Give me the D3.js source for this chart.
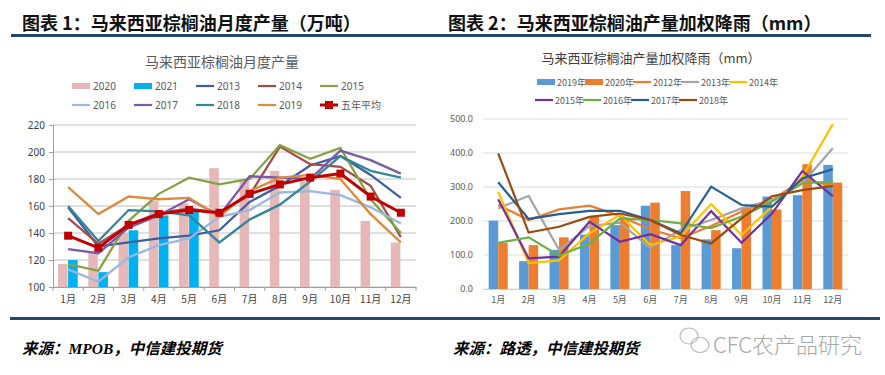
<!DOCTYPE html>
<html>
<head>
<meta charset="utf-8">
<script src="https://cdn.jsdelivr.net/npm/d3@7"></script>
<style>
  body { margin: 0; background: #fff; }
  text { font-family: "Noto Sans", "Noto Sans CJK SC", sans-serif; }
</style>
</head>
<body>
<svg id="mainFrame"></svg>
<script>
const months = ['1月','2月','3月','4月','5月','6月','7月','8月','9月','10月','11月','12月']

// chart 1: monthly output (10k t)
const prod2020 = [117,126,140,164,162,188,180,186,178,172,149,133]
const prod2021 = [120,111,142,153,156]
const p2013 = [159,130,133,136,138,142,163,175,190,197,183,166]
const p2014 = [151,132,146,155,158,155,168,204,191,189,175,137]
const p2015 = [117,112,149,169,181,176,180,205,195,203,165,140]
const p2016 = [113,104,122,131,136,152,157,170,171,168,159,147]
const p2017 = [128,125,144,153,165,153,182,181,180,201,194,184]
const p2018 = [160,134,157,156,153,133,150,161,178,197,186,181]
const p2019 = [174,154,167,165,166,152,171,181,183,180,154,133]
const avg5 = [138,129,146,154,157,155,169,176,181,184,167,155]
const prodTicks = [100,120,140,160,180,200,220]

// chart 2: weighted rainfall (mm)
const rain2019 = [201,82,115,160,188,245,129,146,120,272,276,365]
const rain2020 = [136,129,152,213,210,254,288,173,238,234,367,313]
const r2012 = [247,203,234,245,215,175,150,185,228,262,320,305]
const r2013 = [237,274,115,185,195,120,174,203,237,262,311,414]
const r2014 = [286,76,84,164,218,129,154,250,159,242,330,485]
const r2015 = [264,90,95,198,139,161,129,229,136,222,347,273]
const r2016 = [136,152,98,134,208,203,193,179,213,257,311,316]
const r2017 = [314,206,220,230,230,203,164,301,247,242,325,352]
const r2018 = [399,166,183,212,222,203,159,134,208,273,291,303]
const rainTicks = [0,100,200,300,400,500]

const svg = d3.select('#mainFrame')
    .attr('width', 885)
    .attr('height', 375)

// frame: headings and rules
const titleFont = '"Noto Sans CJK SC", sans-serif'
svg.append('text').text('图表 1：马来西亚棕榈油月度产量（万吨）')
    .attr('x', 22).attr('y', 30)
    .style('font-family', titleFont).style('font-weight', 'bold').style('font-size', '18px').attr('fill', '#111')
svg.append('text').text('图表 2：马来西亚棕榈油产量加权降雨（mm）')
    .attr('x', 448).attr('y', 30)
    .style('font-family', titleFont).style('font-weight', 'bold').style('font-size', '18px').attr('fill', '#111')
svg.append('rect').attr('x', 11).attr('y', 34).attr('width', 429).attr('height', 3).attr('fill', '#24476b')
svg.append('rect').attr('x', 440).attr('y', 34).attr('width', 431).attr('height', 3).attr('fill', '#24476b')
svg.append('rect').attr('x', 10).attr('y', 317).attr('width', 870).attr('height', 3).attr('fill', '#24476b')

const srcFont = '"Liberation Serif", "Noto Sans CJK SC", serif'
svg.append('text').text('来源：MPOB，中信建投期货')
    .attr('x', 22).attr('y', 354)
    .style('font-family', srcFont).style('font-weight', 'bold').style('font-style', 'italic').style('font-size', '15.5px')
svg.append('text').text('来源：路透，中信建投期货')
    .attr('x', 453).attr('y', 354)
    .style('font-family', srcFont).style('font-weight', 'bold').style('font-style', 'italic').style('font-size', '15.5px')

// watermark
const wm = svg.append('g').attr('fill', 'none').attr('stroke', '#b8b8b8').attr('stroke-width', 1.2)
wm.append('ellipse').attr('cx', 689).attr('cy', 336).attr('rx', 9).attr('ry', 8)
wm.append('ellipse').attr('cx', 700).attr('cy', 345).attr('rx', 9).attr('ry', 7.5)
svg.append('text').text('CFC农产品研究')
    .attr('x', 713).attr('y', 353)
    .style('font-size', '22px').attr('fill', '#a8a8a8')
    .style('font-family', '"Noto Sans CJK SC", sans-serif').style('font-weight', 300)

// ---------- chart 1 ----------
const c1 = svg.append('g')
const x1 = d3.scaleBand().domain(months).range([53, 416])
const x1in = d3.scaleBand().domain(['2020', '2021']).range([0, x1.bandwidth()]).paddingOuter(0.5).paddingInner(0)
const y1 = d3.scaleLinear().domain([100, 220]).range([287, 125])

c1.append('text').text('马来西亚棕榈油月度产量')
    .attr('x', 222).attr('y', 67).attr('text-anchor', 'middle')
    .style('font-family', '"Noto Sans CJK SC", serif').style('font-size', '14px').attr('fill', '#595959')

c1.append('g').selectAll('line').data(prodTicks).join('line')
    .attr('x1', 53).attr('x2', 416)
    .attr('y1', d => y1(d)).attr('y2', d => y1(d))
    .attr('stroke', '#c0c0c0').attr('stroke-width', 1)

c1.append('g').attr('transform', 'translate(53,0)')
    .call(d3.axisLeft(y1).tickValues(prodTicks).tickSize(4).tickPadding(4))
    .call(g => g.select('.domain').attr('stroke', '#a0a0a0'))
    .call(g => g.selectAll('.tick line').attr('stroke', '#a0a0a0'))
    .call(g => g.selectAll('text').attr('fill', '#404040').style('font-size', '10px'))

const x1axis = c1.append('g').attr('transform', 'translate(0,287)')
    .call(d3.axisBottom(x1).tickSize(0).tickPadding(9))
x1axis.select('.domain').attr('stroke', '#a0a0a0')
x1axis.selectAll('text').attr('fill', '#404040').style('font-size', '10px')
    .style('font-family', '"Noto Sans CJK SC", sans-serif')
x1axis.selectAll('.sep').data(d3.range(13)).join('line')
    .attr('x1', i => 53 + i * x1.bandwidth()).attr('x2', i => 53 + i * x1.bandwidth())
    .attr('y1', 0).attr('y2', 4).attr('stroke', '#a0a0a0')

c1.append('g').selectAll('rect').data(prod2020).join('rect')
    .attr('x', (d, i) => x1(months[i]) + x1in('2020'))
    .attr('width', x1in.bandwidth() - 0.5)
    .attr('y', d => y1(d)).attr('height', d => 287 - y1(d))
    .attr('fill', '#e6b8b7')
c1.append('g').selectAll('rect').data(prod2021).join('rect')
    .attr('x', (d, i) => x1(months[i]) + x1in('2021'))
    .attr('width', x1in.bandwidth() - 0.5)
    .attr('y', d => y1(d)).attr('height', d => 287 - y1(d))
    .attr('fill', '#00b0f0')

const prodLines = [
    {name: '2013', values: p2013, color: '#3d5f9e'},
    {name: '2014', values: p2014, color: '#a94a47'},
    {name: '2015', values: p2015, color: '#85a244'},
    {name: '2016', values: p2016, color: '#9bb8dc'},
    {name: '2017', values: p2017, color: '#7b5ba6'},
    {name: '2018', values: p2018, color: '#33879b'},
    {name: '2019', values: p2019, color: '#dd8a3e'},
]
const line1 = d3.line()
    .x((d, i) => x1(months[i]) + x1.bandwidth() / 2)
    .y(d => y1(d))
c1.append('g').selectAll('path').data(prodLines).join('path')
    .attr('d', d => line1(d.values))
    .attr('fill', 'none').attr('stroke', d => d.color).attr('stroke-width', 2.3)
c1.append('path').attr('d', line1(avg5))
    .attr('fill', 'none').attr('stroke', '#c00000').attr('stroke-width', 3)
c1.append('g').selectAll('rect').data(avg5).join('rect')
    .attr('x', (d, i) => x1(months[i]) + x1.bandwidth() / 2 - 4)
    .attr('y', d => y1(d) - 4)
    .attr('width', 8).attr('height', 8).attr('fill', '#c00000')

// legend 1
const leg1 = [
    {name: '2020', type: 'bar', color: '#e6b8b7'},
    {name: '2021', type: 'bar', color: '#00b0f0'},
    ...prodLines.map(d => ({name: d.name, type: 'line', color: d.color})),
    {name: '五年平均', type: 'mark', color: '#c00000'},
]
const leg1Items = c1.append('g').selectAll('g').data(leg1).join('g')
    .attr('transform', (d, i) => `translate(${72 + (i % 5) * 62},${i < 5 ? 86 : 105})`)
leg1Items.filter(d => d.type === 'bar').append('rect')
    .attr('x', 0).attr('y', -3).attr('width', 18).attr('height', 6).attr('fill', d => d.color)
leg1Items.filter(d => d.type !== 'bar').append('line')
    .attr('x1', 0).attr('x2', 18).attr('stroke', d => d.color).attr('stroke-width', d => d.type === 'mark' ? 3 : 2.2)
leg1Items.filter(d => d.type === 'mark').append('rect')
    .attr('x', 5).attr('y', -4).attr('width', 8).attr('height', 8).attr('fill', d => d.color)
leg1Items.append('text').text(d => d.name)
    .attr('x', 21).attr('y', 4)
    .style('font-size', '10px').attr('fill', '#595959')

// ---------- chart 2 ----------
const c2 = svg.append('g')
const x2 = d3.scaleBand().domain(months).range([483, 848])
const x2in = d3.scaleBand().domain(['2019', '2020']).range([0, x2.bandwidth()]).paddingOuter(0.6).paddingInner(0)
const y2 = d3.scaleLinear().domain([0, 500]).range([289, 119])

c2.append('text').text('马来西亚棕榈油产量加权降雨（mm）')
    .attr('x', 651).attr('y', 63).attr('text-anchor', 'middle')
    .style('font-family', '"Noto Sans CJK SC", sans-serif').style('font-size', '13px').attr('fill', '#404040')

c2.append('g').selectAll('line').data(rainTicks).join('line')
    .attr('x1', 483).attr('x2', 848)
    .attr('y1', d => y2(d)).attr('y2', d => y2(d))
    .attr('stroke', '#dcdcdc').attr('stroke-width', 1)

c2.append('g').attr('transform', 'translate(483,0)')
    .call(d3.axisLeft(y2).tickValues(rainTicks).tickFormat(d3.format('.1f')).tickSize(0).tickPadding(10))
    .call(g => g.select('.domain').remove())
    .call(g => g.selectAll('text').attr('fill', '#595959').style('font-size', '9px'))

const x2axis = c2.append('g').attr('transform', 'translate(0,289)')
    .call(d3.axisBottom(x2).tickSize(0).tickPadding(8))
x2axis.select('.domain').attr('stroke', '#d0d0d0')
x2axis.selectAll('text').attr('fill', '#595959').style('font-size', '9px')
    .style('font-family', '"Noto Sans CJK SC", sans-serif')

c2.append('g').selectAll('rect').data(rain2019).join('rect')
    .attr('x', (d, i) => x2(months[i]) + x2in('2019'))
    .attr('width', x2in.bandwidth())
    .attr('y', d => y2(d)).attr('height', d => 289 - y2(d))
    .attr('fill', '#5b9bd5')
c2.append('g').selectAll('rect').data(rain2020).join('rect')
    .attr('x', (d, i) => x2(months[i]) + x2in('2020'))
    .attr('width', x2in.bandwidth())
    .attr('y', d => y2(d)).attr('height', d => 289 - y2(d))
    .attr('fill', '#ed7d31')

const rainLines = [
    {name: '2012年', values: r2012, color: '#ed7d31'},
    {name: '2013年', values: r2013, color: '#a5a5a5'},
    {name: '2014年', values: r2014, color: '#ffc000'},
    {name: '2015年', values: r2015, color: '#7030a0'},
    {name: '2016年', values: r2016, color: '#70ad47'},
    {name: '2017年', values: r2017, color: '#255e91'},
    {name: '2018年', values: r2018, color: '#9e480e'},
]
const line2 = d3.line()
    .x((d, i) => x2(months[i]) + x2.bandwidth() / 2)
    .y(d => y2(d))
c2.append('g').selectAll('path').data(rainLines).join('path')
    .attr('d', d => line2(d.values))
    .attr('fill', 'none').attr('stroke', d => d.color).attr('stroke-width', 2.2)

// legend 2
const leg2 = [
    {name: '2019年', type: 'bar', color: '#5b9bd5'},
    {name: '2020年', type: 'bar', color: '#ed7d31'},
    ...rainLines.map(d => ({name: d.name, type: 'line', color: d.color})),
]
const leg2Items = c2.append('g').selectAll('g').data(leg2).join('g')
    .attr('transform', (d, i) => `translate(${(i < 5 ? 537 : 535) + (i % 5) * 48},${i < 5 ? 82 : 100})`)
leg2Items.filter(d => d.type === 'bar').append('rect')
    .attr('x', 0).attr('y', -3).attr('width', 18).attr('height', 6).attr('fill', d => d.color)
leg2Items.filter(d => d.type === 'line').append('line')
    .attr('x1', 0).attr('x2', 18).attr('stroke', d => d.color).attr('stroke-width', 2.2)
leg2Items.append('text').text(d => d.name)
    .attr('x', 20).attr('y', 3.5)
    .style('font-size', '9px').attr('fill', '#595959')
    .style('font-family', '"Noto Sans CJK SC", sans-serif')
</script>
</body>
</html>
